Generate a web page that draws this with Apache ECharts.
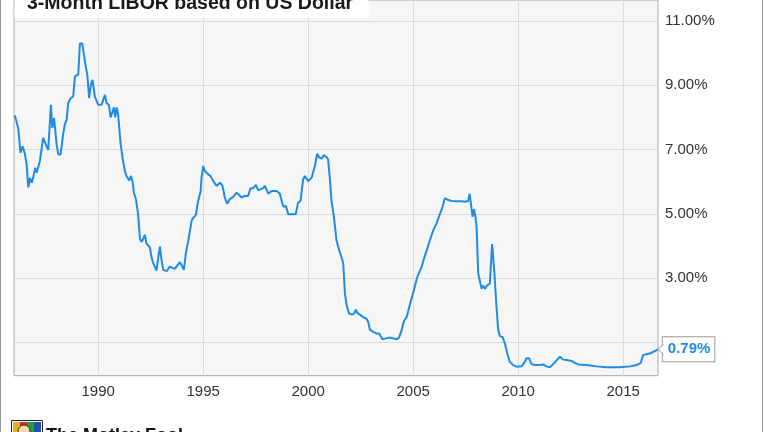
<!DOCTYPE html>
<html><head><meta charset="utf-8">
<script src="https://cdn.jsdelivr.net/npm/echarts@6/dist/echarts.min.js"></script>
<style>html,body{margin:0;padding:0;background:#fff}#c{width:764px;height:432px}</style>
</head><body><div id="c"></div>
<script>
const chartTitle = '3-Month LIBOR based on US Dollar';
// decimal years
const years = [
1986.03,1986.11,1986.19,1986.30,1986.40,1986.51,1986.59,1986.67,1986.75,1986.83,1986.90,
1987.00,1987.07,1987.22,1987.38,1987.54,1987.62,1987.75,1987.81,1987.90,
1988.02,1988.10,1988.21,1988.33,1988.41,1988.50,1988.57,1988.69,1988.81,1988.89,
1989.05,1989.13,1989.24,1989.37,1989.48,1989.57,1989.65,1989.73,1989.84,
1990.00,1990.16,1990.24,1990.32,1990.40,1990.51,1990.59,1990.69,1990.75,1990.81,1990.88,1990.95,
1991.07,1991.16,1991.27,1991.35,1991.48,1991.56,1991.64,1991.70,1991.80,1991.90,1991.99,
1992.07,1992.14,1992.22,1992.30,1992.38,1992.46,1992.54,1992.62,1992.70,1992.78,1992.86,1992.94,
1993.02,1993.10,1993.26,1993.33,1993.41,1993.54,1993.65,1993.76,1993.89,1993.99,
1994.08,1994.18,1994.29,1994.37,1994.45,1994.52,1994.65,1994.76,1994.88,1994.92,
1995.00,1995.08,1995.24,1995.35,1995.48,1995.64,1995.80,1995.92,
1996.03,1996.14,1996.27,1996.43,1996.59,1996.71,1996.83,1996.99,
1997.14,1997.26,1997.38,1997.51,1997.62,1997.70,1997.86,1997.94,
1998.10,1998.26,1998.50,1998.65,1998.78,1998.84,1998.94,
1999.05,1999.29,1999.41,1999.52,1999.64,1999.76,1999.84,
2000.00,2000.16,2000.32,2000.43,2000.52,2000.65,2000.75,2000.88,2000.95,
2001.03,2001.11,2001.22,2001.35,2001.48,2001.59,2001.67,2001.75,2001.83,2001.95,
2002.07,2002.18,2002.27,2002.33,2002.46,2002.62,2002.78,2002.86,2002.94,
2003.10,2003.26,2003.38,2003.45,2003.54,2003.70,2003.89,
2004.05,2004.21,2004.33,2004.45,2004.56,2004.69,2004.81,2004.92,
2005.03,2005.19,2005.29,2005.40,2005.51,2005.64,2005.80,2005.95,
2006.11,2006.27,2006.40,2006.51,2006.67,2006.83,
2007.07,2007.30,2007.46,2007.62,2007.69,2007.75,2007.83,2007.90,2007.97,
2008.02,2008.10,2008.18,2008.26,2008.33,2008.43,2008.51,2008.65,2008.76,2008.86,2008.97,
2009.05,2009.13,2009.26,2009.37,2009.48,2009.60,2009.76,2009.92,
2010.16,2010.27,2010.40,2010.52,2010.64,2010.80,
2011.03,2011.19,2011.35,2011.51,2011.67,2011.86,2011.99,
2012.14,2012.38,2012.54,2012.70,2012.86,
2013.26,2013.73,2014.21,2014.84,2015.32,2015.64,2015.84,2015.95,
2016.11,2016.27,2016.43,2016.57,2016.65
];
// 3-month LIBOR (%)
const rates = [
8.06,8.00,7.67,6.90,7.10,6.86,6.55,5.82,6.12,5.97,6.12,
6.43,6.28,6.64,7.36,7.10,6.99,8.39,7.67,7.98,
7.16,6.85,6.85,7.47,7.78,7.93,8.44,8.60,8.65,9.27,
9.34,10.30,10.30,9.73,9.32,8.60,9.01,9.17,8.65,
8.39,8.39,8.44,8.70,8.44,8.39,8.00,8.19,8.31,8.00,8.31,8.08,
7.16,6.74,6.33,6.18,6.04,6.18,6.00,5.66,5.45,4.99,4.22,
4.13,4.22,4.35,4.08,4.03,3.96,3.65,3.46,3.43,3.24,3.65,3.98,
3.55,3.26,3.22,3.20,3.36,3.32,3.29,3.39,3.50,3.39,
3.26,3.80,4.17,4.48,4.79,4.87,4.97,5.40,5.71,6.12,
6.49,6.33,6.23,6.18,6.02,5.87,5.97,5.87,
5.51,5.32,5.46,5.53,5.66,5.59,5.51,5.56,
5.56,5.80,5.80,5.90,5.73,5.73,5.80,5.87,
5.63,5.71,5.71,5.63,5.30,5.22,5.25,
4.99,4.99,5.00,5.35,5.42,6.07,6.18,
6.02,6.12,6.49,6.87,6.76,6.72,6.83,6.76,6.69,
6.12,5.40,4.94,4.17,3.86,3.65,3.45,2.52,2.16,1.90,
1.87,1.90,2.02,1.93,1.87,1.79,1.74,1.64,1.40,
1.33,1.28,1.28,1.20,1.10,1.13,1.16,
1.13,1.10,1.16,1.38,1.67,1.79,2.10,2.36,
2.62,3.03,3.19,3.34,3.60,3.86,4.19,4.48,
4.70,4.99,5.22,5.49,5.43,5.40,
5.39,5.39,5.38,5.40,5.63,5.32,4.91,5.15,4.89,
4.58,3.14,3.08,2.67,2.77,2.67,2.77,2.83,4.06,3.24,2.10,
1.38,1.20,1.17,0.97,0.66,0.40,0.30,0.25,
0.26,0.35,0.51,0.51,0.33,0.30,
0.30,0.32,0.26,0.23,0.33,0.47,0.56,
0.47,0.45,0.43,0.37,0.32,
0.30,0.26,0.23,0.23,0.26,0.30,0.37,0.61,
0.64,0.66,0.71,0.76,0.79
];
const xTickYears = [1990,1995,2000,2005,2010,2015];
const yTickValues = [1,3,5,7,9,11];

const FONT = 'Arial, "Liberation Sans", sans-serif';
const BLUE = '#1e8ce6';
const chart = echarts.init(document.getElementById('c'), null, {renderer:'canvas'});
const seriesData = years.map((y,i)=>[y, rates[i]]);

chart.setOption({
  animation:false,
  backgroundColor:'#fff',
  grid:{left:14,right:106,top:-2,bottom:56.3,show:true,backgroundColor:'#f6f6f6',borderColor:'#a8a8a8',borderWidth:1,containLabel:false},
  xAxis:{type:'value',min:1985.99,max:2016.66,
    axisLine:{show:false},
    axisTick:{show:false,customValues:xTickYears},
    axisLabel:{customValues:xTickYears,formatter:v=>String(Math.round(v)),color:'#333',fontSize:15,fontFamily:FONT,margin:9},
    splitLine:{show:true,lineStyle:{color:'#dcdcdc',width:1}}},
  yAxis:{type:'value',position:'right',min:-0.03,max:11.65,
    axisLine:{show:false},
    axisTick:{show:false,customValues:yTickValues},
    axisLabel:{customValues:yTickValues,formatter:v=>v.toFixed(2)+'%',color:'#333',fontSize:15,fontFamily:FONT,margin:7},
    splitLine:{show:true,lineStyle:{color:'#dcdcdc',width:1}}},
  series:[{type:'line',data:seriesData,showSymbol:false,symbol:'none',
    lineStyle:{color:BLUE,width:2},z:5,
    endLabel:{show:true,formatter:p=>p.value[1].toFixed(2)+'%',color:BLUE,fontWeight:'bold',fontSize:15,fontFamily:FONT,
      backgroundColor:'#fff',borderColor:'#9a9a9a',borderWidth:1,padding:[5,4,4,5],distance:5}}]
});

const last = seriesData[seriesData.length-1];
const p = chart.convertToPixel({gridIndex:0}, last);
chart.setOption({graphic:[
  {type:'rect',z:10,shape:{x:14.5,y:-2,width:354,height:19.5},style:{fill:'#ffffff'}},
  {type:'text',z:11,x:27,y:3.5,style:{text:chartTitle,font:'bold 19.5px '+FONT,fill:'#1a1a1a',verticalAlign:'middle',align:'left'}},
  {type:'line',z:11,shape:{x1:0.5,y1:0,x2:0.5,y2:432},style:{stroke:'#9a9a9a',lineWidth:1}},
  {type:'line',z:11,shape:{x1:762.5,y1:0,x2:762.5,y2:432},style:{stroke:'#9a9a9a',lineWidth:1}},
  {type:'polygon',z:20,shape:{points:[[p[0]+0.5,p[1]],[p[0]+6,p[1]-5],[p[0]+6,p[1]+5]]},style:{fill:'#fff'}},
  {type:'polyline',z:21,shape:{points:[[p[0]+5.5,p[1]-5],[p[0]+0.5,p[1]],[p[0]+5.5,p[1]+5]]},style:{stroke:'#9a9a9a',lineWidth:1,fill:null}},
  {type:'rect',z:11,shape:{x:11.5,y:420.5,width:31,height:14},style:{fill:'#fff',stroke:'#222',lineWidth:1}},
  {type:'rect',z:11,shape:{x:13,y:422,width:7,height:10},style:{fill:'#e8b020'}},
  {type:'rect',z:11,shape:{x:20,y:422,width:7,height:10},style:{fill:'#d8262b'}},
  {type:'rect',z:11,shape:{x:27,y:422,width:7,height:10},style:{fill:'#2a9b3a'}},
  {type:'rect',z:11,shape:{x:34,y:422,width:7,height:10},style:{fill:'#2050b0'}},
  {type:'circle',z:12,shape:{cx:24,cy:431,r:6},style:{fill:'#f3d9a8',stroke:'#333',lineWidth:1}},
  {type:'text',z:11,x:46,y:427.5,style:{text:'The Motley Fool',font:'bold 18px '+FONT,fill:'#111',verticalAlign:'top'}},
  {type:'text',z:11,x:615,y:430,style:{text:'YCHARTS',font:'bold 26px '+FONT,fill:BLUE,verticalAlign:'top'}}
]});
</script>
</body></html>
